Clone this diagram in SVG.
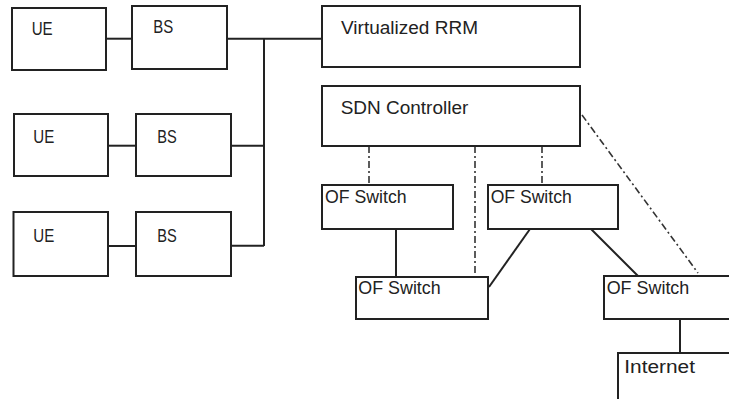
<svg xmlns="http://www.w3.org/2000/svg" width="729" height="399" viewBox="0 0 729 399">
<style>
.box{fill:#fff;stroke:#222;stroke-width:2}
.ln{stroke:#222;stroke-width:2;fill:none}
.dl{stroke:#333;stroke-width:1.6;fill:none;stroke-dasharray:7 3 2 3}
.t{font-family:"Liberation Sans",Arial,sans-serif;font-size:17.5px;fill:#222}
</style>
<rect width="729" height="399" fill="#fff"/>
<g id="connectors">
<line class="ln" x1="105" y1="38.7" x2="132" y2="38.7"/>
<line class="ln" x1="227" y1="38.7" x2="322" y2="38.7"/>
<line class="ln" x1="264" y1="38.7" x2="264" y2="246"/>
<line class="ln" x1="108" y1="145.7" x2="136" y2="145.7"/>
<line class="ln" x1="231" y1="145.7" x2="264" y2="145.7"/>
<line class="ln" x1="108" y1="246" x2="136" y2="246"/>
<line class="ln" x1="231" y1="245.7" x2="264" y2="245.7"/>
<line class="ln" x1="396" y1="229" x2="396" y2="277"/>
<line class="ln" x1="530" y1="229" x2="489" y2="287"/>
<line class="ln" x1="591" y1="229" x2="638" y2="276"/>
<line class="ln" x1="680" y1="319" x2="680" y2="353"/>
<line class="dl" x1="369" y1="146" x2="369" y2="185"/>
<line class="dl" x1="542" y1="146" x2="542" y2="185"/>
<line class="dl" x1="475" y1="146" x2="475" y2="277"/>
<line class="dl" x1="582" y1="115" x2="698" y2="273"/>
</g>
<g id="ue1"><rect class="box" x="12" y="8" width="94" height="62"/><text class="t" x="31.7" y="35" textLength="21" lengthAdjust="spacingAndGlyphs">UE</text></g>
<g id="bs1"><rect class="box" x="132" y="6" width="95" height="63"/><text class="t" x="153.3" y="33.3" textLength="20" lengthAdjust="spacingAndGlyphs">BS</text></g>
<g id="ue2"><rect class="box" x="14" y="114" width="94" height="62"/><text class="t" x="33.3" y="143.3" textLength="21" lengthAdjust="spacingAndGlyphs">UE</text></g>
<g id="bs2"><rect class="box" x="136" y="114" width="95" height="62"/><text class="t" x="157.3" y="143.3" textLength="19.5" lengthAdjust="spacingAndGlyphs">BS</text></g>
<g id="ue3"><rect class="box" x="13.5" y="212" width="94.5" height="64"/><text class="t" x="33.3" y="242" textLength="21" lengthAdjust="spacingAndGlyphs">UE</text></g>
<g id="bs3"><rect class="box" x="136" y="212" width="95" height="64"/><text class="t" x="157.3" y="242" textLength="19.5" lengthAdjust="spacingAndGlyphs">BS</text></g>
<g id="rrm"><rect class="box" x="322" y="6" width="258" height="61"/><text class="t" x="341" y="34.3" textLength="137" lengthAdjust="spacingAndGlyphs">Virtualized RRM</text></g>
<g id="sdn"><rect class="box" x="322" y="86" width="258" height="60"/><text class="t" x="340.7" y="114.3" textLength="127.6" lengthAdjust="spacingAndGlyphs">SDN Controller</text></g>
<g id="ofs1"><rect class="box" x="322" y="185" width="131" height="44"/><text class="t" x="325" y="203.3" textLength="81.7" lengthAdjust="spacingAndGlyphs">OF Switch</text></g>
<g id="ofs2"><rect class="box" x="488" y="185" width="130" height="44"/><text class="t" x="490.7" y="203.3" textLength="81" lengthAdjust="spacingAndGlyphs">OF Switch</text></g>
<g id="ofs3"><rect class="box" x="356" y="277" width="132" height="42"/><text class="t" x="358.3" y="294" textLength="82.4" lengthAdjust="spacingAndGlyphs">OF Switch</text></g>
<g id="ofs4"><rect class="box" x="604" y="276" width="140" height="43"/><text class="t" x="606.7" y="294" textLength="82.6" lengthAdjust="spacingAndGlyphs">OF Switch</text></g>
<g id="internet"><rect class="box" x="618" y="353" width="130" height="60"/><text class="t" x="624.3" y="373.3" textLength="70.7" lengthAdjust="spacingAndGlyphs">Internet</text></g>
</svg>
